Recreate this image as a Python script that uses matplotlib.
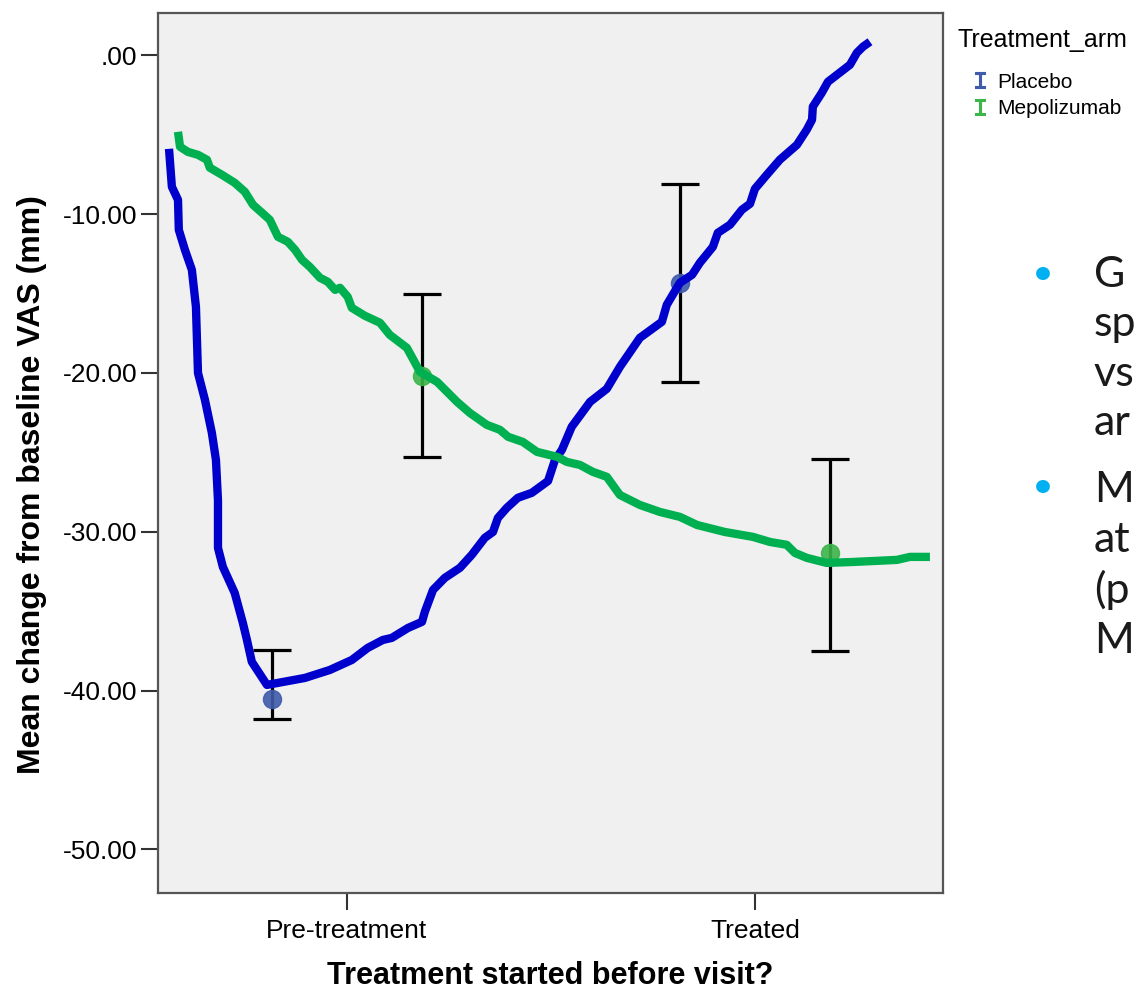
import matplotlib.pyplot as plt
from matplotlib.lines import Line2D

# categorias e barras de erro (SPSS)
categorias = ["Pre-treatment", "Treated"]
yticks = [0, -10, -20, -30, -40, -50]
ytick_labels = [".00", "-10.00", "-20.00", "-30.00", "-40.00", "-50.00"]

placebo_media = [-40.5, -14.35]
placebo_inf = [-41.8, -20.6]
placebo_sup = [-37.45, -8.1]

mepo_media = [-20.2, -31.35]
mepo_inf = [-25.3, -37.5]
mepo_sup = [-15.0, -25.4]

# curvas desenhadas a mao por cima do grafico
azul_x = [-0.436, -0.429, -0.414, -0.412, -0.397, -0.380, -0.370, -0.365, -0.348, -0.331,
          -0.321, -0.316, -0.316, -0.304, -0.275, -0.255, -0.245, -0.233, -0.196, -0.103,
          -0.042, 0.012, 0.051, 0.088, 0.110, 0.150, 0.184, 0.191, 0.211, 0.240,
          0.277, 0.306, 0.338, 0.358, 0.370, 0.392, 0.419, 0.453, 0.493, 0.510,
          0.527, 0.551, 0.596, 0.637, 0.669, 0.718, 0.772, 0.784, 0.816, 0.846,
          0.865, 0.897, 0.909, 0.939, 0.968, 0.988, 1.000, 1.029, 1.061, 1.103,
          1.127, 1.140, 1.142, 1.164, 1.179, 1.233, 1.250, 1.265, 1.282]
azul_y = [-5.89, -8.28, -9.10, -10.99, -12.25, -13.51, -15.84, -20.00, -21.69, -23.77,
          -25.47, -28.02, -31.01, -32.21, -33.85, -35.74, -36.81, -38.19, -39.64, -39.20,
          -38.70, -38.07, -37.31, -36.81, -36.68, -36.05, -35.67, -35.04, -33.66, -32.90,
          -32.27, -31.45, -30.38, -30.01, -29.13, -28.49, -27.86, -27.55, -26.80, -25.47,
          -24.84, -23.39, -21.82, -21.00, -19.62, -17.79, -16.78, -15.71, -14.33, -13.82,
          -13.07, -12.06, -11.18, -10.67, -9.73, -9.35, -8.41, -7.53, -6.58, -5.64,
          -4.69, -4.06, -3.24, -2.36, -1.67, -0.60, 0.16, 0.54, 0.85]

verde_x = [-0.414, -0.409, -0.390, -0.365, -0.343, -0.336, -0.306, -0.275, -0.250, -0.230,
           -0.208, -0.189, -0.169, -0.145, -0.127, -0.110, -0.091, -0.066, -0.047, -0.029,
           -0.017, 0.002, 0.012, 0.044, 0.081, 0.105, 0.147, 0.167, 0.179, 0.221,
           0.270, 0.301, 0.343, 0.375, 0.395, 0.431, 0.466, 0.515, 0.539, 0.571,
           0.603, 0.637, 0.669, 0.718, 0.767, 0.816, 0.858, 0.926, 0.995, 1.037,
           1.078, 1.098, 1.127, 1.176, 1.240, 1.348, 1.380, 1.429]
verde_y = [-4.82, -5.76, -6.08, -6.27, -6.58, -7.08, -7.53, -8.03, -8.60, -9.42,
           -9.92, -10.36, -11.43, -11.74, -12.25, -12.88, -13.32, -14.01, -14.26, -14.77,
           -14.64, -15.21, -15.90, -16.40, -16.84, -17.60, -18.42, -19.36, -19.93, -20.56,
           -21.82, -22.51, -23.27, -23.58, -24.02, -24.34, -24.97, -25.28, -25.60, -25.79,
           -26.23, -26.54, -27.68, -28.31, -28.75, -29.06, -29.57, -30.01, -30.32, -30.64,
           -30.82, -31.33, -31.64, -31.96, -31.90, -31.77, -31.58, -31.58]

# texto cortado do slide a direita
slide_linhas = ["G", "sp", "vs", "ar", "M", "at", "(p", "M"]
slide_y = [275, 324, 374, 423, 490, 540, 590, 641]
bullet_y = [278, 491]

fonte = ['Liberation Sans Narrow', 'Liberation Sans', 'DejaVu Sans']
plt.rcParams['font.family'] = fonte

fig = plt.figure(figsize=(11.37, 9.94), dpi=100)
ax = fig.add_axes([158 / 1137, 101 / 994, 785 / 1137, 880 / 994])
ax.set_facecolor('#f0f0f0')

desloc = 0.184
cor_placebo = '#3f5bab'
cor_mepo = '#3cb54a'

for medias, inf, sup, d, cor in [(placebo_media, placebo_inf, placebo_sup, -desloc, cor_placebo),
                                 (mepo_media, mepo_inf, mepo_sup, desloc, cor_mepo)]:
    xs = [i + d for i in range(len(categorias))]
    yerr = [[m - a for m, a in zip(medias, inf)], [b - m for m, b in zip(medias, sup)]]
    ax.errorbar(xs, medias, yerr=yerr, fmt='none', ecolor='black', elinewidth=2.3,
                capsize=13.5, capthick=2.3, zorder=2)
    ax.plot(xs, medias, 'o', color=cor, markersize=13, alpha=0.9, zorder=3)

ax.plot(azul_x, azul_y, color='#0000cc', linewidth=6, solid_capstyle='butt',
        solid_joinstyle='round', zorder=4)
ax.plot(verde_x, verde_y, color='#00b050', linewidth=6, solid_capstyle='butt',
        solid_joinstyle='round', zorder=4)

ax.set_xlim(-0.463, 1.461)
ax.set_ylim(-52.74, 2.66)
ax.set_xticks(range(len(categorias)))
ax.set_xticklabels(categorias, fontsize=19)
ax.set_yticks(yticks)
ax.set_yticklabels(ytick_labels, fontsize=19)
ax.tick_params(length=12, width=1.5, color='#333333', pad=3)
ax.tick_params(axis='x', pad=7)
for s in ax.spines.values():
    s.set_color('#555555')
    s.set_linewidth(1.6)

ax.set_xlabel("Treatment started before visit?", fontsize=22, fontweight='bold', labelpad=13)
ax.set_ylabel("Mean change from baseline VAS (mm)", fontsize=23, fontweight='bold')
ax.yaxis.set_label_coords(-0.141, 0.4636)

# legenda do SPSS
fig.text(957 / 1137, 1 - 40 / 994, "Treatment_arm", fontsize=18, ha='left', va='center')
handles = [Line2D([], [], linestyle='none', marker=r'$\mathtt{I}$', markersize=12,
                  color=cor_placebo, markeredgewidth=0.8),
           Line2D([], [], linestyle='none', marker=r'$\mathtt{I}$', markersize=12,
                  color=cor_mepo, markeredgewidth=0.8)]
leg = fig.legend(handles, ["Placebo", "Mepolizumab"],
                 loc='upper left', bbox_to_anchor=(952 / 1137, 1 - 54 / 994),
                 frameon=False, fontsize=15,
                 handlelength=0.9, handletextpad=0.35, labelspacing=0.35)

# bullets e texto do slide
for by in bullet_y:
    fig.text(1043 / 1137, 1 - by / 994, "\u2022", color='#00b0f0', fontsize=34,
             ha='center', va='center', family='DejaVu Sans')
for t, ty in zip(slide_linhas, slide_y):
    fig.text(1094 / 1137, 1 - ty / 994, t, color='#1a1a1a', fontsize=31,
             ha='left', va='center', family='Lato')

fig.savefig('out.png', dpi=100)
